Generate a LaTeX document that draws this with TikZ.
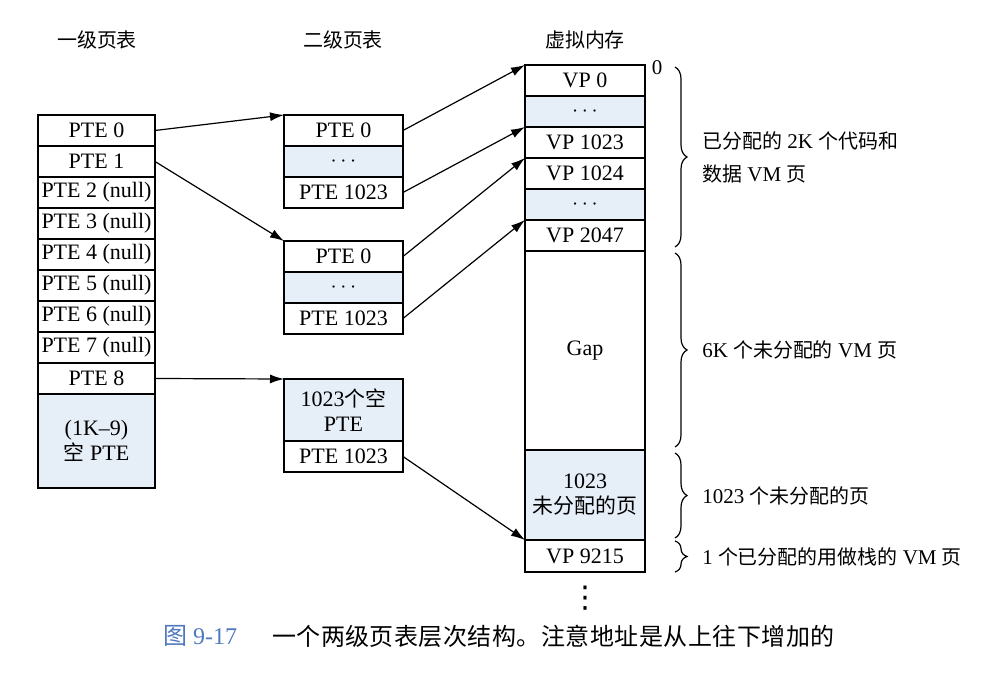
\documentclass[tikz,border=0pt]{standalone}
\usepackage{fontspec}
\setmainfont{Liberation Serif}
\newfontfamily\zhfont{Noto Sans CJK SC}[Scale=0.95]
\newfontfamily\zhcapfont{Noto Sans CJK SC}[LetterSpace=2]
\newfontfamily\symfont{DejaVu Sans}
\newcommand{\zh}[1]{{\zhfont #1}}
\usepackage{tikz}
\usetikzlibrary{arrows.meta, positioning, decorations.pathreplacing}
\definecolor{paleblue}{RGB}{230,238,248}
\definecolor{capblue}{RGB}{80,120,190}

\begin{document}
\begin{tikzpicture}[x=0.5pt, y=-0.5pt,
  cell/.style={draw, line width=0.6pt, fill=white, minimum width=58.5pt, minimum height=15.5pt,
    inner sep=0pt, outer sep=0pt, font=\fontsize{11}{12.5}\selectfont, align=center},
  bluecell/.style={cell, fill=paleblue},
  ptr/.style={-{Latex[length=7pt,width=4.5pt]}, line width=0.6pt},
  brc/.style={decorate, decoration={brace, amplitude=6pt}, line width=0.6pt},
  lbl/.style={anchor=west, xshift=10pt, font=\fontsize{10.5}{16.5}\selectfont, align=left},
  hdr/.style={font=\fontsize{10.5}{12}\selectfont}]
\useasboundingbox (0,0) rectangle (989,678);

% titles
\node[hdr] (hdrone) at (97,40) {\zh{一级页表}};
\node[hdr] (hdrtwo) at (343,40) {\zh{二级页表}};
\node[hdr] (hdrvm) at (585,40) {\zh{虚拟内存}};

% level 1 table
\node[cell, anchor=north west] (p0) at (38,115) {PTE 0};
\node[cell, below=0pt of p0] (p1) {PTE 1};
\node[cell, below=0pt of p1] (p2) {PTE 2 (null)};
\node[cell, below=0pt of p2] (p3) {PTE 3 (null)};
\node[cell, below=0pt of p3] (p4) {PTE 4 (null)};
\node[cell, below=0pt of p4] (p5) {PTE 5 (null)};
\node[cell, below=0pt of p5] (p6) {PTE 6 (null)};
\node[cell, below=0pt of p6] (p7) {PTE 7 (null)};
\node[cell, below=0pt of p7] (p8) {PTE 8};
\node[bluecell, below=0pt of p8, minimum height=47pt] (pnull) {(1K--9)\\\zh{空} PTE};

% level 2 tables
\node[cell, anchor=north west, minimum width=59.5pt] (a0) at (284,115) {PTE 0};
\node[bluecell, below=0pt of a0, minimum width=59.5pt] (a1) {$\cdots$};
\node[cell, below=0pt of a1, minimum width=59.5pt] (a2) {PTE 1023};

\node[cell, anchor=north west, minimum width=59.5pt] (b0) at (284,241) {PTE 0};
\node[bluecell, below=0pt of b0, minimum width=59.5pt] (b1) {$\cdots$};
\node[cell, below=0pt of b1, minimum width=59.5pt] (b2) {PTE 1023};

\node[bluecell, anchor=north west, minimum width=59.5pt, minimum height=31pt] (c0) at (284,379) {1023\zh{个空}\\PTE};
\node[cell, below=0pt of c0, minimum width=59.5pt] (c1) {PTE 1023};

% virtual memory
\node[cell, anchor=north west, minimum width=60pt] (v0) at (525,65) {VP 0};
\node[bluecell, below=0pt of v0, minimum width=60pt] (v1) {$\cdots$};
\node[cell, below=0pt of v1, minimum width=60pt] (v2) {VP 1023};
\node[cell, below=0pt of v2, minimum width=60pt] (v3) {VP 1024};
\node[bluecell, below=0pt of v3, minimum width=60pt] (v4) {$\cdots$};
\node[cell, below=0pt of v4, minimum width=60pt] (v5) {VP 2047};
\node[cell, below=0pt of v5, minimum width=60pt, minimum height=99.5pt] (vgap) {Gap};
\node[bluecell, below=0pt of vgap, minimum width=60pt, minimum height=45pt] (vfree) {1023\\\zh{未分配的页}};
\node[cell, below=0pt of vfree, minimum width=60pt, minimum height=16pt] (vstack) {VP 9215};
\node[below=7pt of vstack, inner sep=0pt, font=\fontsize{15}{15}\symfont] (vmore) {⋮};
\node[font=\fontsize{10.5}{12}\selectfont] (zero) at ([xshift=6pt, yshift=-1.5pt]v0.north east) {0};

% pointers
\draw[ptr] (p0.east) -- (a0.north west);
\draw[ptr] (p1.east) -- (b0.north west);
\draw[ptr] (p8.east) -- (c0.north west);
\draw[ptr] (a0.east) -- (v0.north west);
\draw[ptr] (a2.east) -- (v2.north west);
\draw[ptr] (b0.east) -- (v3.north west);
\draw[ptr] (b2.east) -- (v5.north west);
\draw[ptr] (c1.east) -- (vstack.north west);

% braces
\draw[brc] ([xshift=15pt, yshift=-1pt]v0.north east) -- ([xshift=15pt, yshift=2pt]v5.south east)
  node[midway, lbl] (txtcode) {\zh{已分配的} 2K \zh{个代码和}\\\zh{数据} VM \zh{页}};
\draw[brc] ([xshift=15pt, yshift=-1pt]vgap.north east) -- ([xshift=15pt, yshift=1.5pt]vgap.south east)
  node[midway, lbl] (txtgap) {6K \zh{个未分配的} VM \zh{页}};
\draw[brc] ([xshift=15pt, yshift=-1.5pt]vfree.north east) -- ([xshift=15pt, yshift=1pt]vfree.south east)
  node[midway, lbl] (txtfree) {1023 \zh{个未分配的页}};
\draw[brc] ([xshift=15pt, yshift=-0.5pt]vstack.north east) -- ([xshift=15pt]vstack.south east)
  node[midway, lbl] (txtstack) {1 \zh{个已分配的用做栈的} VM \zh{页}};

% caption
\node[anchor=west, text=capblue, font=\fontsize{12}{14}\selectfont] (fignum) at (156,636) {{\zhcapfont 图} 9-17};
\node[anchor=west, font=\fontsize{12}{14}\selectfont] (figtxt) at (265,636) {\zhcapfont 一个两级页表层次结构。注意地址是从上往下增加的};
\end{tikzpicture}
\end{document}
